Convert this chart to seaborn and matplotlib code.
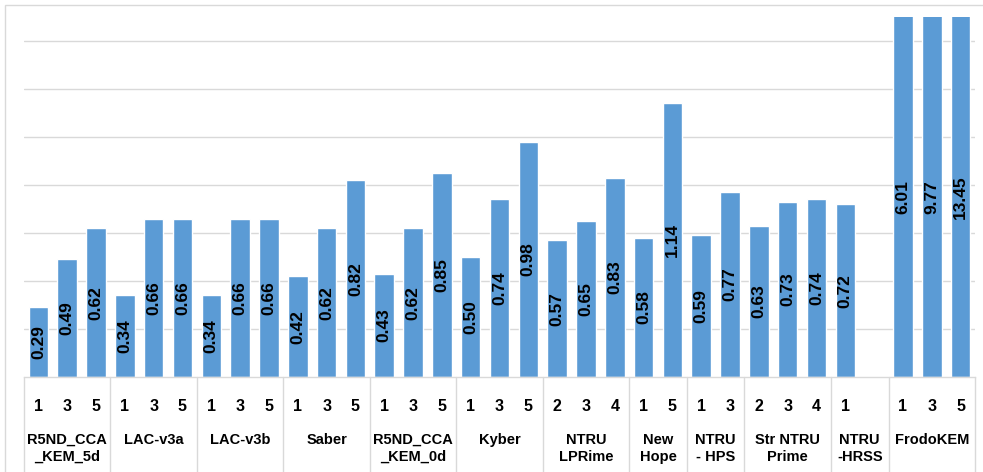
import pandas as pd
import numpy as np

import matplotlib.pyplot as plt
import matplotlib.transforms as mtransforms
from matplotlib.patches import Rectangle
import seaborn as sns

groups = ['R5ND_CCA\n_KEM_5d', 'LAC-v3a', 'LAC-v3b', 'Saber', 'R5ND_CCA\n_KEM_0d',
          'Kyber', 'NTRU\nLPRime', 'New\nHope', 'NTRU\n- HPS', 'Str NTRU\nPrime',
          'NTRU\n-HRSS', 'FrodoKEM']
levels = [['1', '3', '5'], ['1', '3', '5'], ['1', '3', '5'], ['1', '3', '5'],
          ['1', '3', '5'], ['1', '3', '5'], ['2', '3', '4'], ['1', '5'],
          ['1', '3'], ['2', '3', '4'], ['1', ''], ['1', '3', '5']]
values = [[0.29, 0.49, 0.62], [0.34, 0.66, 0.66], [0.34, 0.66, 0.66],
          [0.42, 0.62, 0.82], [0.43, 0.62, 0.85], [0.50, 0.74, 0.98],
          [0.57, 0.65, 0.83], [0.58, 1.14], [0.59, 0.77], [0.63, 0.73, 0.74],
          [0.72, None], [6.01, 9.77, 13.45]]

ymax = 1.5
bar_color = '#5B9BD5'
grid_color = '#D9D9D9'
texto = '#000000'

# one row per slot, the empty slot in NTRU-HRSS keeps a gap
filas = []
for g, (lv, vals) in enumerate(zip(levels, values)):
    for j, (l, v) in enumerate(zip(lv, vals)):
        filas.append({'slot': f'{g}_{j}', 'grupo': g, 'nivel': l, 'valor': v})
df = pd.DataFrame(filas)
orden = list(df['slot'])
df_barras = df.dropna(subset=['valor'])

sns.set_theme(style='white')
plt.rcParams['font.family'] = ['Liberation Sans', 'DejaVu Sans']
plt.rcParams['font.weight'] = 'bold'

fig = plt.figure(figsize=(9.83, 4.72), dpi=100)
ax = fig.add_axes([24 / 983, 1 - 377 / 472, 951 / 983, 360 / 472])

sns.barplot(data=df_barras, x='slot', y='valor', order=orden, color=bar_color,
            saturation=1, width=0.68, ax=ax)

ax.set_ylim(0, ymax)
ax.set_xlim(-0.5, len(orden) - 0.5)
ax.set_yticks(np.arange(0.2, 1.41, 0.2))
ax.set_yticklabels([])
ax.tick_params(axis='y', length=0)
ax.yaxis.grid(True, color=grid_color, linewidth=1)
ax.set_axisbelow(True)
for s in ['top', 'right', 'left']:
    ax.spines[s].set_visible(False)
ax.spines['bottom'].set_color(grid_color)
ax.spines['bottom'].set_linewidth(1)
ax.set_xlabel('')
ax.set_ylabel('')

# value labels, centred in the visible part of each bar
for i, row in df.reset_index(drop=True).iterrows():
    if pd.isna(row['valor']):
        continue
    h = min(row['valor'], ymax)
    ax.text(i, h / 2, f"{row['valor']:.2f}", rotation=90, ha='center', va='center',
            fontsize=12.5, fontweight='bold', color=texto)

ax.set_xticks(range(len(orden)))
ax.set_xticklabels(df['nivel'], fontsize=11.5, fontweight='bold', color=texto)
ax.tick_params(axis='x', length=0, pad=16)

trans = mtransforms.blended_transform_factory(ax.transData, ax.transAxes)
inicio = -0.5
for g, nombre in enumerate(groups):
    n = len(levels[g])
    centro = inicio + n / 2
    ax.text(centro, -0.155, nombre, transform=trans, ha='center', va='top',
            fontsize=10.5, fontweight='bold', linespacing=1.3, color=texto)
    ax.plot([inicio, inicio], [0, -0.3], transform=trans, color=grid_color,
            linewidth=1, clip_on=False)
    inicio += n
ax.plot([inicio, inicio], [0, -0.3], transform=trans, color=grid_color,
        linewidth=1, clip_on=False)

fig.patches.append(Rectangle((5 / 983, -0.1), 1.2, 1.1 - 5 / 472,
                             transform=fig.transFigure, fill=False,
                             edgecolor=grid_color, linewidth=1))

fig.savefig('out.png', dpi=100)
